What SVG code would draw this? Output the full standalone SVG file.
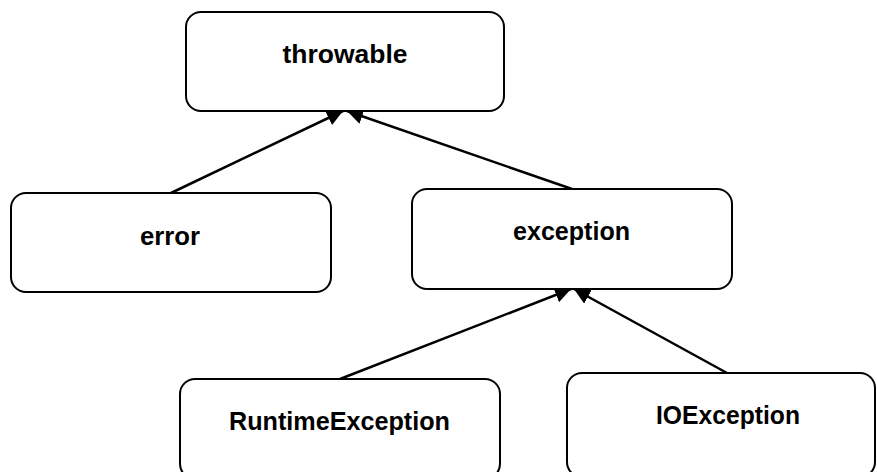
<svg xmlns="http://www.w3.org/2000/svg" width="877" height="472" viewBox="0 0 877 472">
  <style>
    .box { fill: #ffffff; stroke: #000000; stroke-width: 2; }
    .label { font-family: "Liberation Sans", Arial, sans-serif; font-weight: bold; font-size: 25px; fill: #000000; text-anchor: middle; }
    .edge { stroke: #000000; stroke-width: 2.5; fill: none; marker-end: url(#arrow); }
  </style>
  <defs>
    <marker id="arrow" markerUnits="userSpaceOnUse" markerWidth="17" markerHeight="16" refX="16" refY="8" orient="auto">
      <path d="M0,0 L16,8 L0,16 z" fill="#000000"/>
    </marker>
  </defs>
  <rect width="877" height="472" fill="#ffffff"/>

  <g id="connectors">
    <line class="edge" x1="171" y1="193" x2="343" y2="111"/>
    <line class="edge" x1="572" y1="189" x2="347" y2="111"/>
    <line class="edge" x1="340" y1="379" x2="571" y2="289"/>
    <line class="edge" x1="727" y1="373" x2="574" y2="289"/>
  </g>

  <g id="throwable">
    <rect class="box" x="186" y="12" width="318" height="99" rx="15" ry="15"/>
    <text class="label" x="345" y="63" textLength="125" lengthAdjust="spacingAndGlyphs">throwable</text>
  </g>

  <g id="error">
    <rect class="box" x="11" y="193" width="320" height="99" rx="15" ry="15"/>
    <text class="label" x="170" y="245" textLength="60" lengthAdjust="spacingAndGlyphs">error</text>
  </g>

  <g id="exception">
    <rect class="box" x="412" y="189" width="320" height="100" rx="15" ry="15"/>
    <text class="label" x="571.5" y="240" textLength="117" lengthAdjust="spacingAndGlyphs">exception</text>
  </g>

  <g id="runtime-exception">
    <rect class="box" x="180" y="379" width="320" height="100" rx="15" ry="15"/>
    <text class="label" x="339.5" y="430" textLength="221" lengthAdjust="spacingAndGlyphs">RuntimeException</text>
  </g>

  <g id="io-exception">
    <rect class="box" x="567" y="373" width="308" height="104" rx="15" ry="15"/>
    <text class="label" x="728" y="424" textLength="144" lengthAdjust="spacingAndGlyphs">IOException</text>
  </g>
</svg>
